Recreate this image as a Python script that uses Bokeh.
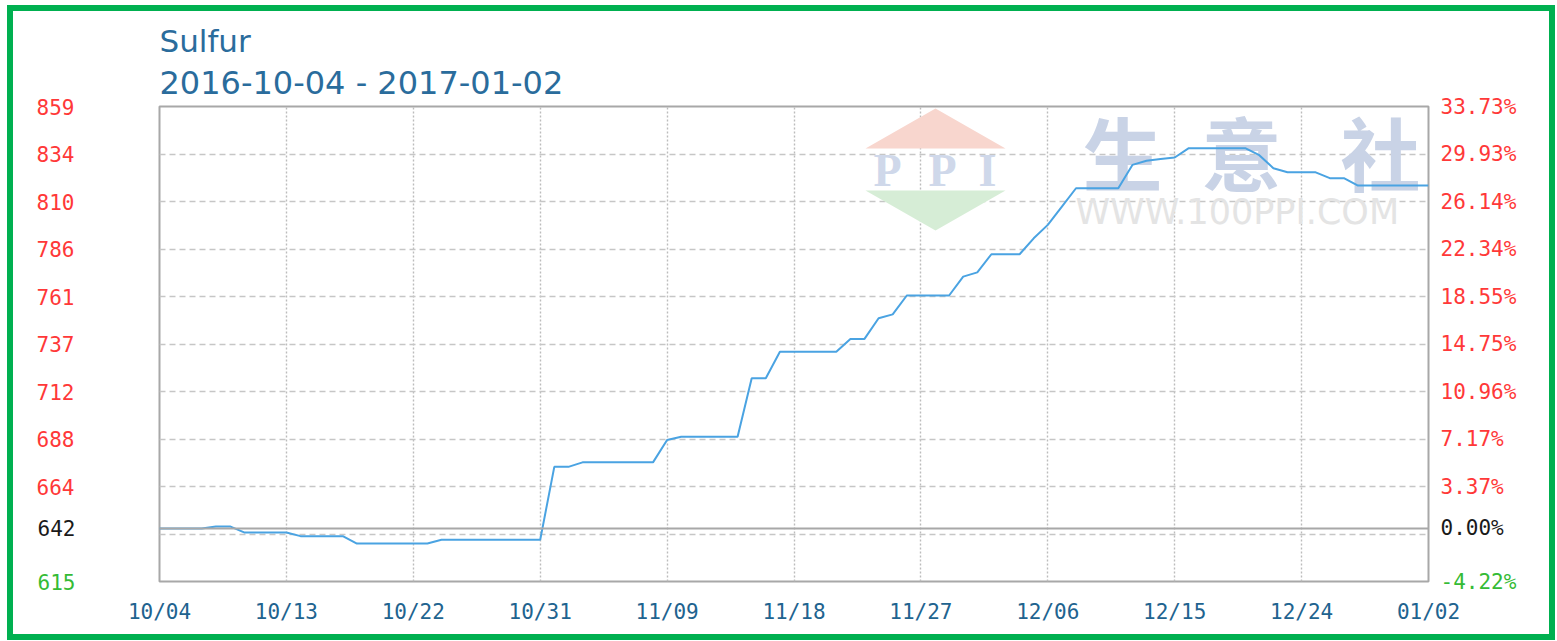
import pandas as pd
from bokeh.plotting import figure
from bokeh.models import Range1d, FixedTicker, LinearAxis, Span, Label, Title, PolyAnnotation
from bokeh.embed import file_html
from bokeh.resources import INLINE

# ---------------- data ----------------
chart_title = "Sulfur"
chart_subtitle = "2016-10-04 - 2017-01-02"
start_date = "2016-10-04"
end_date = "2017-01-02"

prices = [
    642.25, 642.25, 642.25, 642.25, 643.3, 643.3, 640.2, 640.2, 640.2, 640.2,
    638.3, 638.3, 638.3, 638.3, 634.5, 634.5, 634.5, 634.5, 634.5, 634.5,
    636.4, 636.4, 636.4, 636.4, 636.4, 636.4, 636.4, 636.4, 673.9, 673.9,
    676.2, 676.2, 676.2, 676.2, 676.2, 676.2, 687.7, 689.4, 689.4, 689.4,
    689.4, 689.4, 719.4, 719.4, 733.0, 733.0, 733.0, 733.0, 733.0, 739.6,
    739.6, 750.2, 752.2, 761.9, 761.9, 761.9, 761.9, 771.6, 773.8, 783.1,
    783.1, 783.1, 791.3, 798.2, 807.6, 817.0, 817.0, 817.0, 817.0, 829.0,
    831.1, 832.0, 832.8, 837.6, 837.6, 837.6, 837.6, 837.6, 834.0, 827.3,
    825.2, 825.2, 825.2, 822.2, 822.2, 818.4, 818.4, 818.4, 818.4, 818.4,
    818.4,
]

x_tick_labels = ["10/04", "10/13", "10/22", "10/31", "11/09", "11/18",
                 "11/27", "12/06", "12/15", "12/24", "01/02"]
x_tick_step = 9

base_price = 642.25
y_bottom = 615
y_top = 859
grid_values = [615.0, 639.4, 663.8, 688.2, 712.6, 737.0, 761.4, 785.8, 810.2, 834.6, 859.0]
up_values = [663.8, 688.2, 712.6, 737.0, 761.4, 785.8, 810.2, 834.6, 859.0]
up_left_labels = ["664", "688", "712", "737", "761", "786", "810", "834", "859"]
up_right_labels = ["3.37%", "7.17%", "10.96%", "14.75%", "18.55%", "22.34%",
                   "26.14%", "29.93%", "33.73%"]
base_left_label = "642"
base_right_label = "0.00%"
low_left_label = "615"
low_right_label = "-4.22%"

watermark_cn = ["生", "意", "社"]
watermark_url = "WWW.100PPI.COM"
watermark_logo = ["P", "P", "I"]

dates = pd.date_range(start_date, end_date, freq="D")
days = [(d - dates[0]).days for d in dates]
x_ticks = days[::x_tick_step]

# ---------------- style ----------------
W, H = 1548, 635
ML, MR, MT, MB = 152, 127, 101, 59
FW = W - ML - MR
FH = H - MT - MB
MONO = "DejaVu Sans Mono"
TICK_PX = 21
TICK_SIZE = f"{TICK_PX}px"
CHAR_W = 0.602 * TICK_PX          # advance width of the mono font
PAD_L, PAD_R = 4, 3               # extra measured width of the label boxes
RED = "#ff3838"
GREEN = "#35bb35"
BLACK = "#1a1a1a"
BLUE_TXT = "#21638f"
TITLE_COLOR = "#2a6c9c"
LINE_COLOR = "#4aa3e2"
LEFT_STANDOFF = 85
RIGHT_STANDOFF = 12

p = figure(width=W, height=H,
           x_range=Range1d(days[0], days[-1]),
           y_range=Range1d(y_bottom, y_top),
           output_backend="svg", toolbar_location=None, title=None,
           min_border_left=ML, min_border_right=MR,
           min_border_top=MT, min_border_bottom=MB)
p.background_fill_color = "white"
p.border_fill_color = None
p.outline_line_color = "#a8a8a8"
p.outline_line_width = 2
p.styles = {"margin-left": "7px", "margin-top": "5px",
            "background-color": "white",
            "box-shadow": "inset 0 0 0 6px #00b050"}


def style_axis(ax, color, standoff):
    ax.axis_line_color = None
    ax.major_tick_line_color = None
    ax.minor_tick_line_color = None
    ax.major_tick_out = 0
    ax.major_tick_in = 0
    ax.major_label_text_font = MONO
    ax.major_label_text_font_size = TICK_SIZE
    ax.major_label_text_font_style = "normal"
    ax.major_label_text_color = color
    ax.major_label_standoff = standoff


# left axis (labels above the base price)
ly = p.yaxis[0]
ly.ticker = FixedTicker(ticks=up_values)
ly.major_label_overrides = dict(zip(up_values, up_left_labels))
style_axis(ly, RED, LEFT_STANDOFF)

# right axis (percent change)
ry = LinearAxis(ticker=FixedTicker(ticks=up_values),
                major_label_overrides=dict(zip(up_values, up_right_labels)))
style_axis(ry, RED, RIGHT_STANDOFF)
p.add_layout(ry, "right")

# extra axes for the base / low labels in their own colours; they stack
# outside the first axis, so a negative standoff pulls them back into line
left_w = round(LEFT_STANDOFF + 3 * CHAR_W + PAD_L)
right_w = round(RIGHT_STANDOFF + 6 * CHAR_W + PAD_R)
for side, val, txt, col, so in [
    ("left", base_price, base_left_label, BLACK, LEFT_STANDOFF - left_w),
    ("left", y_bottom, low_left_label, GREEN, LEFT_STANDOFF - left_w),
    ("right", y_bottom, low_right_label, GREEN, RIGHT_STANDOFF - right_w),
    ("right", base_price, base_right_label, BLACK, RIGHT_STANDOFF - right_w),
]:
    ax = LinearAxis(ticker=FixedTicker(ticks=[val]),
                    major_label_overrides={val: txt})
    style_axis(ax, col, so)
    p.add_layout(ax, side)

# bottom axis
bx = p.xaxis[0]
bx.ticker = FixedTicker(ticks=x_ticks)
bx.major_label_overrides = dict(zip(x_ticks, x_tick_labels))
style_axis(bx, BLUE_TXT, 18)

# grids
p.xgrid[0].ticker = FixedTicker(ticks=x_ticks)
p.xgrid[0].grid_line_color = "#bcbcbc"
p.xgrid[0].grid_line_dash = "2 2"
p.xgrid[0].grid_line_width = 1.4
p.ygrid[0].ticker = FixedTicker(ticks=grid_values)
p.ygrid[0].grid_line_color = "#c6c6c6"
p.ygrid[0].grid_line_dash = "6 4"
p.ygrid[0].grid_line_width = 1.4

# titles (first added is nearest the frame)
p.add_layout(Title(text=chart_subtitle, align="left", text_font="DejaVu Sans",
                   text_font_size="32px", text_font_style="normal",
                   text_color=TITLE_COLOR, standoff=10, offset=0), "above")
p.add_layout(Title(text=chart_title, align="left", text_font="DejaVu Sans",
                   text_font_size="31px", text_font_style="normal",
                   text_color=TITLE_COLOR, standoff=-5, offset=0), "above")

# watermark
p.add_layout(PolyAnnotation(xs=[706, 846, 776], ys=[FH - 42, FH - 42, FH - 2],
                            xs_units="screen", ys_units="screen",
                            fill_color="#f8d6ce", fill_alpha=1, line_color=None,
                            level="underlay"))
p.add_layout(PolyAnnotation(xs=[706, 846, 776], ys=[FH - 84, FH - 84, FH - 124],
                            xs_units="screen", ys_units="screen",
                            fill_color="#d6edd6", fill_alpha=1, line_color=None,
                            level="underlay"))
for i, ch in enumerate(watermark_logo):
    p.add_layout(Label(x=[728, 783, 828][i], y=FH - 64, x_units="screen", y_units="screen",
                       text=ch, text_align="center", text_baseline="middle",
                       text_font="Liberation Serif", text_font_style="bold",
                       text_font_size="46px", text_color="#cfd8ea", level="underlay"))
for i, ch in enumerate(watermark_cn):
    p.add_layout(Label(x=[963, 1082, 1221][i], y=FH - 43, x_units="screen", y_units="screen",
                       text=ch, text_align="center", text_baseline="middle",
                       text_font="Noto Sans CJK SC", text_font_style="bold",
                       text_font_size="80px", text_color="#c9d3e6", level="underlay"))
p.add_layout(Label(x=916, y=FH - 105, x_units="screen", y_units="screen",
                   text=watermark_url, text_align="left", text_baseline="middle",
                   text_font="DejaVu Sans", text_font_size="35px",
                   text_color="#e4e4e4", level="underlay"))

# base line
p.add_layout(Span(location=base_price, dimension="width",
                  line_color="#a8a8a8", line_width=2))

# price line
p.line(days, prices, line_color=LINE_COLOR, line_width=2)

open("out.html", "w").write(file_html(p, INLINE))
